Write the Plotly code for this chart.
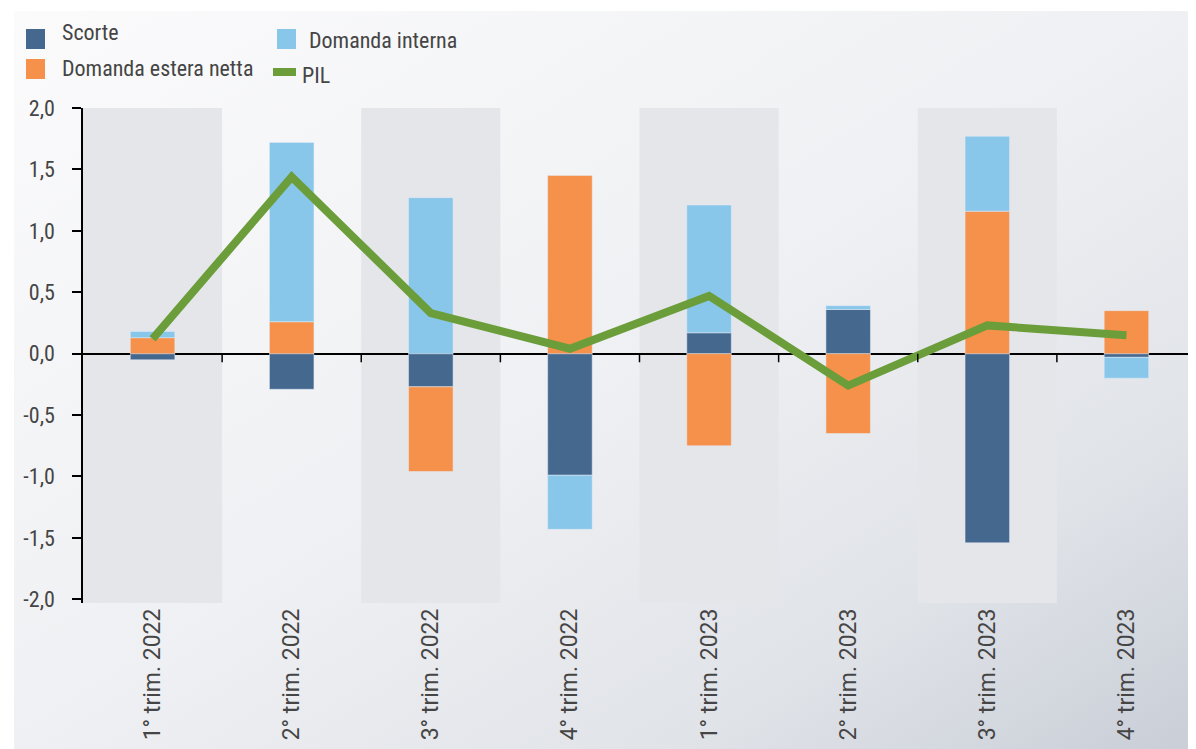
import base64
import plotly.graph_objects as go

# contributi alla crescita congiunturale del PIL (punti percentuali)
trimestri = ["1° trim. 2022", "2° trim. 2022", "3° trim. 2022", "4° trim. 2022",
             "1° trim. 2023", "2° trim. 2023", "3° trim. 2023", "4° trim. 2023"]
scorte = [-0.05, -0.29, -0.27, -0.99, 0.17, 0.36, -1.54, -0.03]
domanda_estera = [0.13, 0.26, -0.69, 1.45, -0.75, -0.65, 1.16, 0.35]
domanda_interna = [0.05, 1.46, 1.27, -0.44, 1.04, 0.03, 0.61, -0.17]
pil = [0.12, 1.44, 0.33, 0.04, 0.47, -0.26, 0.23, 0.15]
y_ticks = [-2.0, -1.5, -1.0, -0.5, 0.0, 0.5, 1.0, 1.5, 2.0]
y_labels = [f"{v:.1f}".replace(".", ",") for v in y_ticks]

# la pagina ha 8px di margine del body: la figura e' piu' piccola della finestra
OFF = 8
W, H = 1196 - OFF, 749 - OFF
ML, MR, MT, MB = 83 - OFF, 0, 108 - OFF, 146
FONT = "Roboto Condensed, Liberation Sans Narrow, DejaVu Sans Condensed, Arial Narrow, sans-serif"
TXT = "#454545"

C_SCORTE = "#45688f"
C_ESTERA = "#f5914a"
C_INTERNA = "#88c6ea"
C_PIL = "#6b9e3b"

pw = W - ML - MR
ph = H - MT - MB


def px(x):
    # pixel della pagina (orizzontale) -> coordinata paper
    return (x - OFF - ML) / pw


def py(y):
    # pixel della pagina (verticale) -> coordinata paper
    return (H - MB - (y - OFF)) / ph


# sfondo sfumato come nell'originale
svg = ("<svg xmlns='http://www.w3.org/2000/svg' width='1182' height='737' preserveAspectRatio='none'>"
       "<defs><linearGradient id='g' x1='0' y1='0' x2='1' y2='1'>"
       "<stop offset='0' stop-color='#fbfbfc'/><stop offset='0.5' stop-color='#eff0f3'/>"
       "<stop offset='0.78' stop-color='#e0e3e8'/><stop offset='1' stop-color='#c9ced7'/>"
       "</linearGradient></defs><rect width='100%' height='100%' fill='url(#g)'/></svg>")
bg_src = "data:image/svg+xml;base64," + base64.b64encode(svg.encode()).decode()

fig = go.Figure()
fig.add_trace(go.Bar(x=trimestri, y=scorte, name="Scorte", marker_color=C_SCORTE))
fig.add_trace(go.Bar(x=trimestri, y=domanda_estera, name="Domanda estera netta",
                     marker_color=C_ESTERA))
fig.add_trace(go.Bar(x=trimestri, y=domanda_interna, name="Domanda interna",
                     marker_color=C_INTERNA))
fig.add_trace(go.Scatter(x=trimestri, y=pil, name="PIL", mode="lines",
                         line=dict(color=C_PIL, width=8)))

shapes = []
# bande grigie alternate
for i in range(0, len(trimestri), 2):
    shapes.append(dict(type="rect", xref="x", yref="y", x0=i - 0.5, x1=i + 0.5,
                       y0=-2.03, y1=2.0, fillcolor="#e5e6ea", line_width=0, layer="below"))
# tacche sull'asse dello zero tra i trimestri
for i in range(len(trimestri) - 1):
    shapes.append(dict(type="line", xref="x", yref="y", x0=i + 0.5, x1=i + 0.5,
                       y0=0, y1=-0.07, line=dict(color="black", width=1.5)))

# legenda disegnata a mano (quadrati grandi come nell'originale)
legend_items = [
    ("Scorte", C_SCORTE, "box", 26, 29, 60, 33),
    ("Domanda estera netta", C_ESTERA, "box", 26, 59, 60, 69),
    ("Domanda interna", C_INTERNA, "box", 277, 29, 307, 40),
    ("PIL", C_PIL, "line", 270, 72, 300, 75),
]
annotations = []
for label, color, kind, sx, sy, tx, ty in legend_items:
    if kind == "box":
        shapes.append(dict(type="rect", xref="paper", yref="paper",
                           x0=px(sx), x1=px(sx + 19), y0=py(sy), y1=py(sy + 20),
                           fillcolor=color, line_width=0))
    else:
        shapes.append(dict(type="line", xref="paper", yref="paper",
                           x0=px(sx + 3), x1=px(sx + 26), y0=py(sy), y1=py(sy),
                           line=dict(color=color, width=8)))
    annotations.append(dict(text=label, xref="paper", yref="paper", x=px(tx), y=py(ty),
                            xanchor="left", yanchor="middle", showarrow=False,
                            font=dict(size=22, color=TXT)))

fig.update_layout(
    width=W, height=H,
    margin=dict(l=ML, r=MR, t=MT, b=MB),
    paper_bgcolor="white",
    plot_bgcolor="rgba(0,0,0,0)",
    barmode="relative",
    bargap=0.68,
    showlegend=False,
    font=dict(family=FONT, size=20, color=TXT),
    images=[dict(source=bg_src, xref="paper", yref="paper", x=px(14), y=py(11),
                 sizex=px(1196) - px(14), sizey=py(11) - py(749), sizing="stretch",
                 xanchor="left", yanchor="top", layer="below")],
    shapes=shapes,
    annotations=annotations,
    xaxis=dict(tickangle=-90, showgrid=False, showline=False, ticks="",
               tickfont=dict(family="Roboto, sans-serif", size=23, color=TXT),
               range=[-0.5, 7.5]),
    yaxis=dict(range=[-2.03, 2.0], tickvals=y_ticks, ticktext=y_labels,
               showgrid=False, showline=True, linecolor="black", linewidth=1.5,
               ticks="outside", ticklen=9, tickcolor="black", tickwidth=1.5,
               zeroline=True, zerolinecolor="black", zerolinewidth=1.5,
               ticklabelstandoff=13, tickfont=dict(size=22, color=TXT)),
)

fig.write_html("out.html")
